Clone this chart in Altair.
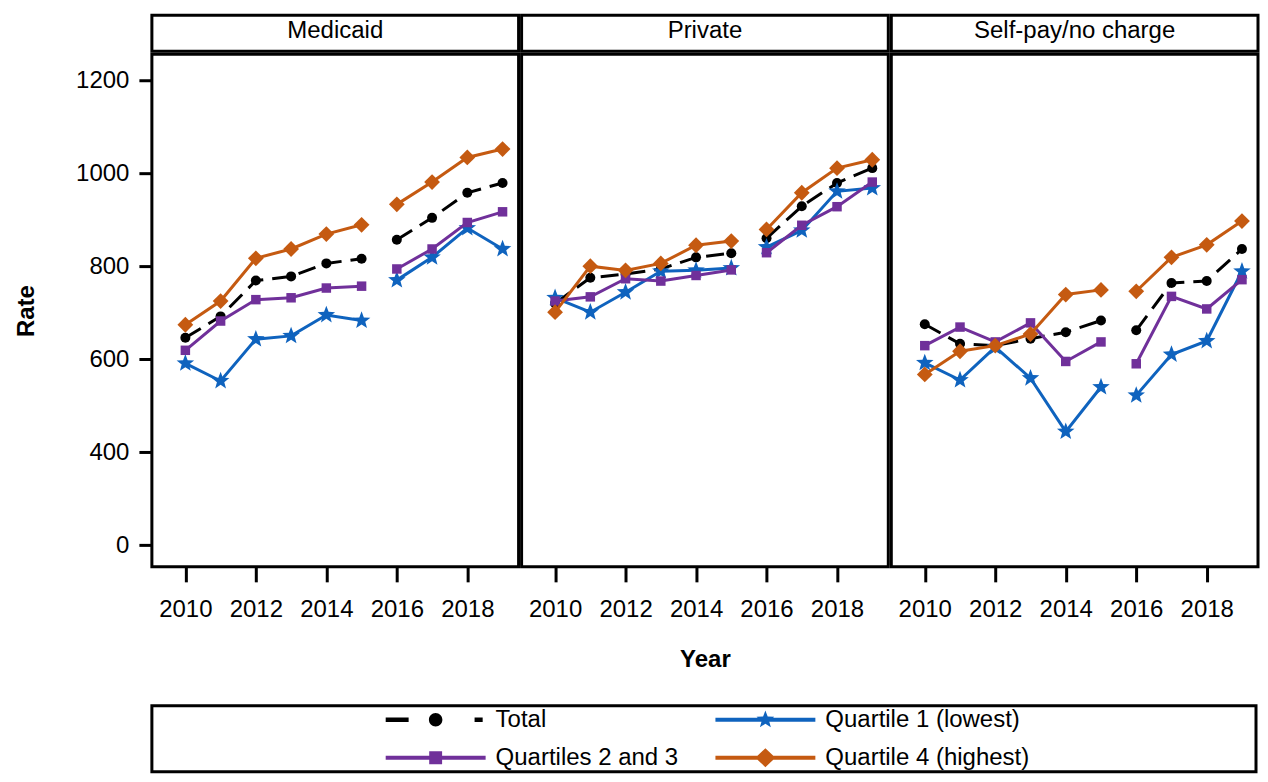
import math
import altair as alt
import pandas as pd

# ---------------- data ----------------
years = list(range(2010, 2020))
panels = ["Medicaid", "Private", "Self-pay/no charge"]
series_names = ["Total", "Quartile 1 (lowest)", "Quartiles 2 and 3", "Quartile 4 (highest)"]

total_med = [646, 692, 769, 778, 806, 816, 857, 904, 958, 979]
q1_med = [591, 553, 643, 650, 695, 683, 770, 819, 882, 837]
q23_med = [619, 682, 728, 732, 753, 757, 794, 837, 894, 917]
q4_med = [674, 725, 817, 837, 869, 889, 933, 981, 1034, 1052]

total_pri = [720, 775, 783, 794, 819, 828, 860, 929, 979, 1011]
q1_pri = [732, 701, 744, 789, 791, 796, 841, 877, 961, 968]
q23_pri = [725, 734, 773, 768, 780, 792, 829, 888, 928, 981]
q4_pri = [701, 800, 791, 806, 845, 854, 879, 958, 1011, 1029]

total_sp = [675, 633, 629, 644, 658, 683, 662, 764, 768, 837]
q1_sp = [592, 555, 626, 559, 444, 540, 522, 610, 639, 789]
q23_sp = [629, 669, 637, 678, 595, 637, 590, 735, 708, 771]
q4_sp = [567, 617, 629, 654, 739, 749, 746, 819, 846, 897]

y_tick_values = [200, 400, 600, 800, 1000, 1200]
x_tick_values = [2010, 2012, 2014, 2016, 2018]

values = {
    "Medicaid": [total_med, q1_med, q23_med, q4_med],
    "Private": [total_pri, q1_pri, q23_pri, q4_pri],
    "Self-pay/no charge": [total_sp, q1_sp, q23_sp, q4_sp],
}

rows = []
for p in panels:
    for s, arr in zip(series_names, values[p]):
        for yr, v in zip(years, arr):
            rows.append({"panel": p, "series": s, "year": yr, "rate": v,
                         "period": "a" if yr <= 2015 else "b"})
df = pd.DataFrame(rows)

# ---------------- styles ----------------
FONT = "Liberation Sans"
FS = 24
colors = ["#000000", "#0F63BE", "#70309A", "#C55A11"]


def star(cx, r_out, r_in):
    pts = []
    for k in range(10):
        ang = -math.pi / 2 + k * math.pi / 5
        r = r_out if k % 2 == 0 else r_in
        pts.append((cx + r * math.cos(ang), r * math.sin(ang)))
    return "M" + "L".join(f"{x:.3f},{y:.3f}" for x, y in pts) + "Z"


def rect(x0, x1, h):
    return f"M{x0},{-h}L{x1},{-h}L{x1},{h}L{x0},{h}Z"


markers = ["circle", star(0, 1, 0.42), "square", "diamond"]
msizes = [100, 340, 90, 250]

# legend symbols: slot 30px (unit = 15px), symbol drawn 100px wide from slot left
c = 2.333
line = rect(-1, 5.667, 0.133)
circ_r = 0.45
legend_paths = [
    rect(-1, 0.53, 0.15)
    + f"M{c - circ_r},0A{circ_r},{circ_r} 0 1,1 {c + circ_r},0A{circ_r},{circ_r} 0 1,1 {c - circ_r},0Z"
    + rect(4.93, 5.47, 0.15),
    line + star(c, 0.62, 0.26),
    line + rect(c - 0.43, c + 0.43, 0.43),
    line + f"M{c},-0.63L{c + 0.67},0L{c},0.63L{c - 0.67},0Z",
]

W, H, HH = 367, 513, 36
EXT = 80
TP = 33
x_scale = alt.Scale(domain=[2009.05, 2019.455], nice=False, zero=False)
y_scale = alt.Scale(domain=[153, 1256], nice=False, zero=False)

# invisible left axis used to give header / legend rows the same left extent
hidden_axis = alt.Axis(labels=False, ticks=False, domain=False, grid=False, title="R",
                       titleColor="transparent", minExtent=EXT, maxExtent=EXT, titlePadding=TP)


def main_panel(i, p):
    x_enc = alt.X(
        "year:Q", scale=x_scale,
        title="Year" if i == 1 else None,
        axis=alt.Axis(values=x_tick_values, format="d", tickSize=15, tickWidth=3,
                      labelPadding=16, domain=False, grid=False, titlePadding=26),
    )
    if i == 0:
        y_enc = alt.Y(
            "rate:Q", scale=y_scale, title="Rate",
            axis=alt.Axis(values=y_tick_values, format="d",
                          labelExpr="datum.value == 200 ? '0' : datum.label",
                          tickSize=13, tickWidth=3, labelPadding=10, domain=False,
                          grid=False, titlePadding=TP, minExtent=EXT, maxExtent=EXT),
        )
    else:
        y_enc = alt.Y("rate:Q", scale=y_scale, axis=None)
    layers = []
    for k, s in enumerate(series_names):
        sub = df[(df.panel == p) & (df.series == s)]
        base = alt.Chart(sub)
        if s == "Total":
            ln = base.mark_line(strokeWidth=3, color=colors[k], strokeDash=[18, 9])
        else:
            ln = base.mark_line(strokeWidth=3, color=colors[k])
        layers.append(ln.encode(x=x_enc, y=y_enc, detail="period:N"))
        layers.append(
            base.mark_point(filled=True, opacity=1, color=colors[k], shape=markers[k],
                            size=msizes[k], strokeWidth=0)
            .encode(x=x_enc, y=y_enc)
        )
    return alt.layer(*layers).properties(width=W, height=H)


def header(i, p):
    ch = alt.Chart(pd.DataFrame({"panel": [p]})).mark_text(
        font=FONT, fontSize=FS, color="black", baseline="middle", dy=-2)
    if i == 0:
        ch = ch.encode(text="panel:N", y=alt.Y("panel:N", axis=hidden_axis))
    else:
        ch = ch.encode(text="panel:N", y=alt.Y("panel:N", axis=None))
    return ch.properties(width=W, height=HH)


cols = [alt.vconcat(header(i, p), main_panel(i, p), spacing=-1) for i, p in enumerate(panels)]
row = alt.hconcat(*cols, spacing=-1)

leg_props = dict(
    title=None, orient="none", legendX=234, legendY=690, direction="horizontal",
    columns=2, symbolSize=900, symbolStrokeWidth=0, symbolOpacity=1,
    labelFont=FONT, labelFontSize=FS, labelColor="black", labelOffset=80,
    labelLimit=600, columnPadding=37, rowPadding=11, padding=0,
)
legend_box = (
    alt.Chart(pd.DataFrame({"series": series_names}))
    .mark_point(filled=True, size=900, strokeWidth=0)
    .encode(
        y=alt.Y("series:N", axis=hidden_axis),
        color=alt.Color("series:N", scale=alt.Scale(domain=series_names, range=colors),
                        legend=alt.Legend(**leg_props)),
        shape=alt.Shape("series:N", scale=alt.Scale(domain=series_names, range=legend_paths),
                        legend=alt.Legend(**leg_props)),
    )
    .transform_filter("datum.series == 'none'")
    .properties(width=3 * W + 4, height=66)
)

chart = (
    alt.vconcat(row, legend_box, spacing=30)
    .properties(padding={"left": 5, "top": 5, "right": 0, "bottom": 0}, background="white")
    .configure_view(stroke="black", strokeWidth=3)
    .configure_axis(labelFont=FONT, labelFontSize=FS, labelColor="black",
                    titleFont=FONT, titleFontSize=FS, titleFontWeight="bold",
                    titleColor="black", tickColor="black")
)

chart.save("out.html", embed_options={"renderer": "svg", "actions": False})
